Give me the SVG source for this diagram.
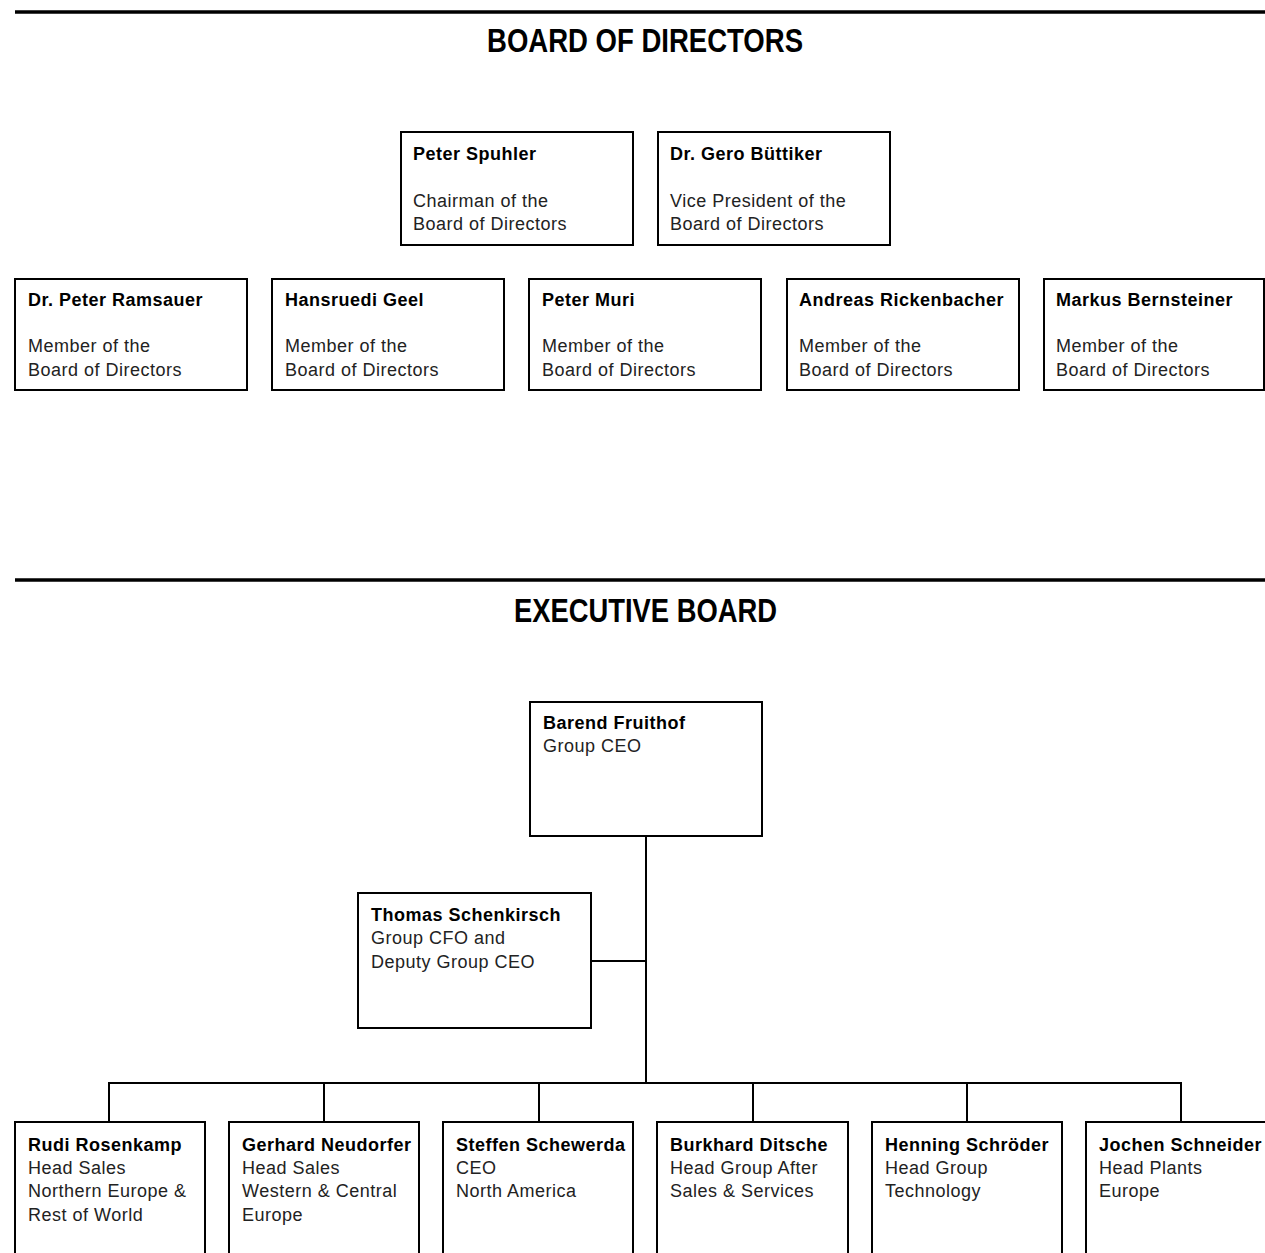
<svg xmlns="http://www.w3.org/2000/svg" width="1265" height="1253" viewBox="0 0 1265 1253">
<style>
.box{fill:#fff;stroke:#000;stroke-width:2}
.rule{stroke:#000;stroke-width:3.5}
.con{stroke:#000;stroke-width:2;fill:none}
.title{font-family:"Liberation Sans",Arial,sans-serif;font-weight:bold;font-size:33px;fill:#000}
.nm{font-family:"Liberation Sans",Arial,sans-serif;font-weight:bold;font-size:18px;letter-spacing:0.5px;fill:#000}
.tx{font-family:"Liberation Sans",Arial,sans-serif;font-size:18px;letter-spacing:0.5px;fill:#222}
</style>
<rect width="1265" height="1253" fill="#fff"/>
<g id="headers">
<line class="rule" x1="15" y1="12" x2="1265" y2="12"/>
<text class="title" x="487" y="52" textLength="316" lengthAdjust="spacingAndGlyphs">BOARD OF DIRECTORS</text>
<line class="rule" x1="15" y1="580" x2="1265" y2="580"/>
<text class="title" x="514" y="622" textLength="263" lengthAdjust="spacingAndGlyphs">EXECUTIVE BOARD</text>
</g>
<g id="connectors">
<line class="con" x1="646" y1="836" x2="646" y2="1083"/>
<line class="con" x1="591" y1="961" x2="646" y2="961"/>
<line class="con" x1="109" y1="1083" x2="1181" y2="1083"/>
<line class="con" x1="109" y1="1082" x2="109" y2="1122"/>
<line class="con" x1="324" y1="1082" x2="324" y2="1122"/>
<line class="con" x1="539" y1="1082" x2="539" y2="1122"/>
<line class="con" x1="753" y1="1082" x2="753" y2="1122"/>
<line class="con" x1="967" y1="1082" x2="967" y2="1122"/>
<line class="con" x1="1181" y1="1082" x2="1181" y2="1122"/>
</g>
<g id="spuhler"><rect class="box" x="401" y="132" width="232" height="113"/><text class="nm" x="413" y="160">Peter Spuhler</text><text class="tx" x="413" y="207">Chairman of the</text><text class="tx" x="413" y="230">Board of Directors</text></g>
<g id="buettiker"><rect class="box" x="658" y="132" width="232" height="113"/><text class="nm" x="670" y="160">Dr. Gero Büttiker</text><text class="tx" x="670" y="207">Vice President of the</text><text class="tx" x="670" y="230">Board of Directors</text></g>
<g id="ramsauer"><rect class="box" x="15" y="279" width="232" height="111"/><text class="nm" x="28" y="306">Dr. Peter Ramsauer</text><text class="tx" x="28" y="352">Member of the</text><text class="tx" x="28" y="376">Board of Directors</text></g>
<g id="geel"><rect class="box" x="272" y="279" width="232" height="111"/><text class="nm" x="285" y="306">Hansruedi Geel</text><text class="tx" x="285" y="352">Member of the</text><text class="tx" x="285" y="376">Board of Directors</text></g>
<g id="muri"><rect class="box" x="529" y="279" width="232" height="111"/><text class="nm" x="542" y="306">Peter Muri</text><text class="tx" x="542" y="352">Member of the</text><text class="tx" x="542" y="376">Board of Directors</text></g>
<g id="rickenbacher"><rect class="box" x="787" y="279" width="232" height="111"/><text class="nm" x="799" y="306">Andreas Rickenbacher</text><text class="tx" x="799" y="352">Member of the</text><text class="tx" x="799" y="376">Board of Directors</text></g>
<g id="bernsteiner"><rect class="box" x="1044" y="279" width="220" height="111"/><text class="nm" x="1056" y="306">Markus Bernsteiner</text><text class="tx" x="1056" y="352">Member of the</text><text class="tx" x="1056" y="376">Board of Directors</text></g>
<g id="fruithof"><rect class="box" x="530" y="702" width="232" height="134"/><text class="nm" x="543" y="729">Barend Fruithof</text><text class="tx" x="543" y="752">Group CEO</text></g>
<g id="schenkirsch"><rect class="box" x="358" y="893" width="233" height="135"/><text class="nm" x="371" y="921">Thomas Schenkirsch</text><text class="tx" x="371" y="944">Group CFO and</text><text class="tx" x="371" y="968">Deputy Group CEO</text></g>
<g id="rosenkamp"><rect class="box" x="15" y="1122" width="190" height="160"/><text class="nm" x="28" y="1151">Rudi Rosenkamp</text><text class="tx" x="28" y="1174">Head Sales</text><text class="tx" x="28" y="1197">Northern Europe &amp;</text><text class="tx" x="28" y="1221">Rest of World</text></g>
<g id="neudorfer"><rect class="box" x="229" y="1122" width="190" height="160"/><text class="nm" x="242" y="1151">Gerhard Neudorfer</text><text class="tx" x="242" y="1174">Head Sales</text><text class="tx" x="242" y="1197">Western &amp; Central</text><text class="tx" x="242" y="1221">Europe</text></g>
<g id="schewerda"><rect class="box" x="443" y="1122" width="190" height="160"/><text class="nm" x="456" y="1151">Steffen Schewerda</text><text class="tx" x="456" y="1174">CEO</text><text class="tx" x="456" y="1197">North America</text></g>
<g id="ditsche"><rect class="box" x="657" y="1122" width="191" height="160"/><text class="nm" x="670" y="1151">Burkhard Ditsche</text><text class="tx" x="670" y="1174">Head Group After</text><text class="tx" x="670" y="1197">Sales &amp; Services</text></g>
<g id="schroeder"><rect class="box" x="872" y="1122" width="190" height="160"/><text class="nm" x="885" y="1151">Henning Schröder</text><text class="tx" x="885" y="1174">Head Group</text><text class="tx" x="885" y="1197">Technology</text></g>
<g id="schneider"><rect class="box" x="1086" y="1122" width="190" height="160"/><text class="nm" x="1099" y="1151">Jochen Schneider</text><text class="tx" x="1099" y="1174">Head Plants</text><text class="tx" x="1099" y="1197">Europe</text></g>
</svg>
